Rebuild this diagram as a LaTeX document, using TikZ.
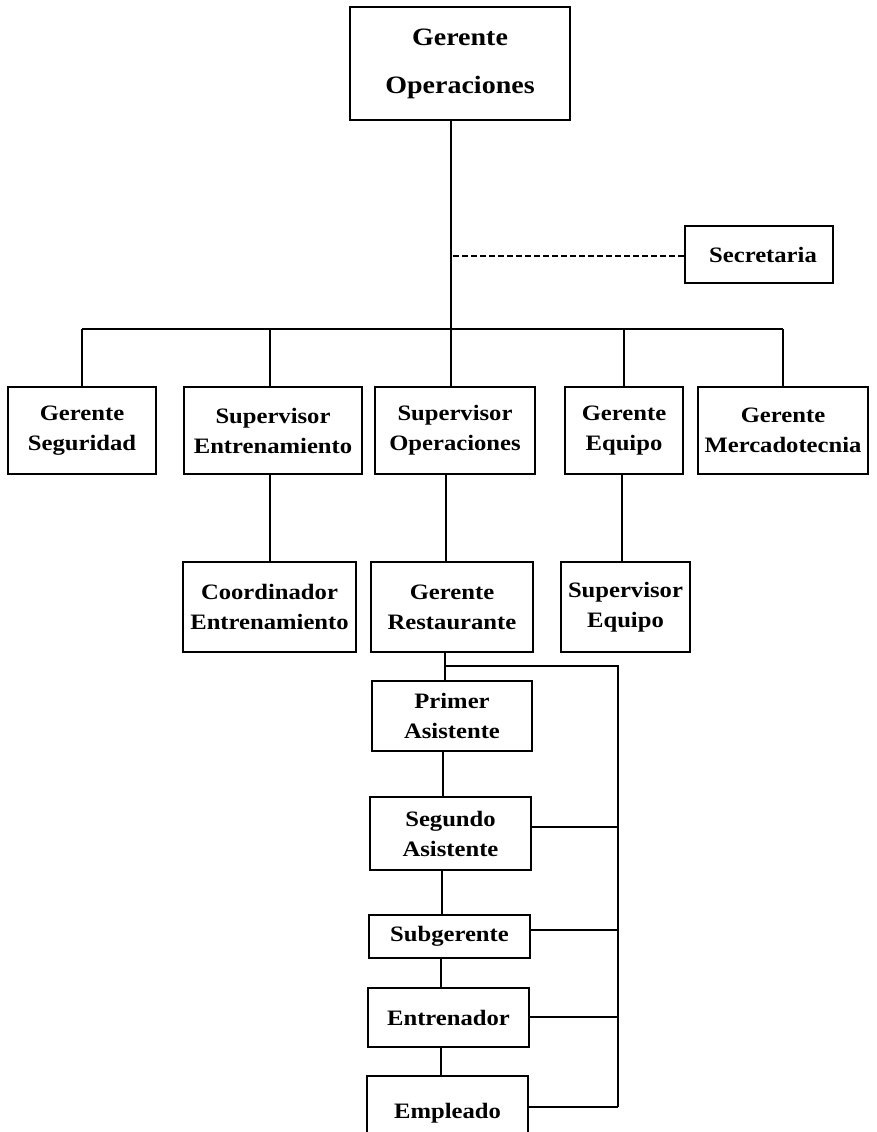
\documentclass[tikz,border=0pt]{standalone}
\usepackage{fontspec}
\setmainfont{Liberation Serif}[FakeStretch=1.12]
\begin{document}
\begin{tikzpicture}[x=1pt,y=-1pt,
  box/.style={draw, line width=1.6pt, rectangle, inner sep=0pt, align=center,
    font=\bfseries\fontsize{22}{30}\selectfont},
  conn/.style={line width=1.6pt},
  dconn/.style={line width=1.8pt, dash pattern=on 6pt off 3pt}]
\useasboundingbox (0,0) rectangle (877,1132);
\fill[white] (0,0) rectangle (877,1132);
\begin{scope}
\clip (0,0) rectangle (877,1132);
% level 0
\node[box, minimum width=220pt, minimum height=113pt,
  font=\bfseries\fontsize{25}{48}\selectfont] (gop) at (460,63.5) {Gerente\\Operaciones};
\node[box, minimum width=148pt, minimum height=57pt] (sec) at (759,254.5) {\hspace{8pt}Secretaria};
% level 1
\node[box, minimum width=148pt, minimum height=87pt] (gseg) at (82,430.5) {Gerente\\Seguridad};
\node[box, minimum width=178pt, minimum height=87pt] (sent) at (273,430.5) {Supervisor\\Entrenamiento};
\node[box, minimum width=160pt, minimum height=87pt] (sop) at (455,430.5) {Supervisor\\Operaciones};
\node[box, minimum width=118pt, minimum height=87pt] (geq) at (624,430.5) {Gerente\\Equipo};
\node[box, minimum width=170pt, minimum height=87pt] (gmer) at (783,430.5) {Gerente\\Mercadotecnia};
% level 2
\node[box, minimum width=173pt, minimum height=90pt] (coord) at (269.5,607) {Coordinador\\Entrenamiento};
\node[box, minimum width=162pt, minimum height=90pt] (grest) at (452,607) {Gerente\\Restaurante};
\node[box, minimum width=129pt, minimum height=90pt] (supeq) at (625.5,607) {Supervisor\\Equipo};
% restaurant chain
\node[box, minimum width=160pt, minimum height=70pt] (prim) at (452,716) {Primer\\Asistente};
\node[box, minimum width=161pt, minimum height=73pt] (seg) at (450.5,833.5) {Segundo\\Asistente};
\node[box, minimum width=161pt, minimum height=43pt] (subg) at (449.5,936.5) {Subgerente};
\node[box, minimum width=161pt, minimum height=59pt] (entr) at (448.5,1017.5) {Entrenador};
\node[box, minimum width=161pt, minimum height=74pt] (empl) at (447.5,1113) {Empleado};
% connector points
\coordinate (bar) at (451,329);
\coordinate (jn) at (445,666);
\coordinate (rt) at (618,666);
\coordinate (sx) at (270,0);
\coordinate (ox) at (446,0);
\coordinate (ex) at (622,0);
% top connectors
\draw[conn] (gop.south -| bar) -- (bar);
\draw[dconn] ([yshift=-1.5pt]sec.west) -- ([yshift=-1.5pt]sec.west -| bar);
\draw[conn] (gseg.north |- bar) -- (gmer.north |- bar);
\draw[conn] (bar) -- (sop.north -| bar);
\draw[conn] (gseg.north) -- (gseg.north |- bar);
\draw[conn] (sent.north -| sx) -- (bar -| sx);
\draw[conn] (geq.north) -- (geq.north |- bar);
\draw[conn] (gmer.north) -- (gmer.north |- bar);
% level 1 to level 2
\draw[conn] (sent.south -| sx) -- (coord.north -| sx);
\draw[conn] (sop.south -| ox) -- (grest.north -| ox);
\draw[conn] (geq.south -| ex) -- (supeq.north -| ex);
% restaurant chain
\draw[conn] (grest.south -| jn) -- (prim.north -| jn);
\draw[conn] (jn) -- (rt) -- ([yshift=6pt]empl.east -| rt);
\draw[conn] (prim.south -| 443,0) -- (seg.north -| 443,0);
\draw[conn] (seg.south -| 442,0) -- (subg.north -| 442,0);
\draw[conn] (subg.south -| 441,0) -- (entr.north -| 441,0);
\draw[conn] (entr.south -| 441,0) -- (empl.north -| 441,0);
\draw[conn] ([yshift=6.5pt]seg.east) -- ([yshift=6.5pt]seg.east -| rt);
\draw[conn] ([yshift=6.5pt]subg.east) -- ([yshift=6.5pt]subg.east -| rt);
\draw[conn] ([yshift=0.5pt]entr.east) -- ([yshift=0.5pt]entr.east -| rt);
\draw[conn] ([yshift=6pt]empl.east) -- ([yshift=6pt]empl.east -| rt);
\end{scope}
\end{tikzpicture}
\end{document}
